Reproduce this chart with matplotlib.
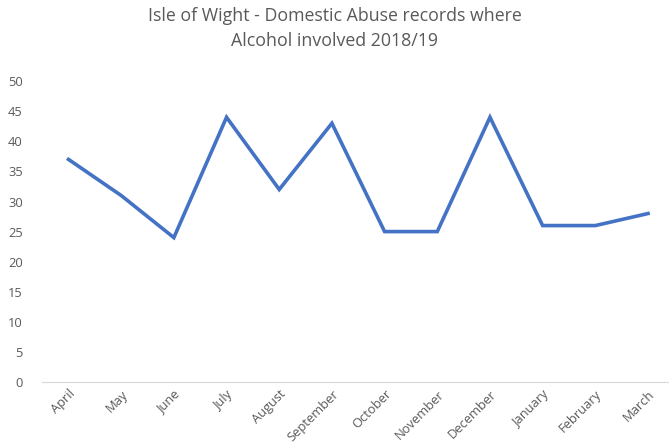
import numpy as np
import matplotlib.pyplot as plt

months = ['April', 'May', 'June', 'July', 'August', 'September', 'October',
          'November', 'December', 'January', 'February', 'March']
records = [37, 31, 24, 44, 32, 43, 25, 25, 44, 26, 26, 28]

plt.rcParams['font.family'] = ['Open Sans', 'DejaVu Sans']
grey = '#595959'

fig = plt.figure(figsize=(6.69, 4.46), dpi=100)
ax = fig.add_axes([0.063, 0.1435, 0.945, 0.6745])

x = np.arange(len(months))
ax.plot(x, records, color='#4472C4', linewidth=2.6, solid_joinstyle='miter')

ax.set_xlim(-0.5, len(months) - 0.5)
ax.set_ylim(0, 50)
ax.set_yticks(range(0, 51, 5))
ax.set_xticks(x)
ax.set_xticklabels(months, rotation=45, ha='right', rotation_mode='anchor')
ax.tick_params(axis='both', length=0, colors=grey, labelsize=9.3)
ax.tick_params(axis='y', pad=14)
ax.tick_params(axis='x', pad=4)

for side in ['top', 'right', 'left']:
    ax.spines[side].set_visible(False)
ax.spines['bottom'].set_color('#d9d9d9')

fig.text(0.5, 0.985, 'Isle of Wight - Domestic Abuse records where\nAlcohol involved 2018/19',
         ha='center', va='top', fontsize=12.8, color=grey, linespacing=1.55)

fig.savefig('out.png', dpi=100)
